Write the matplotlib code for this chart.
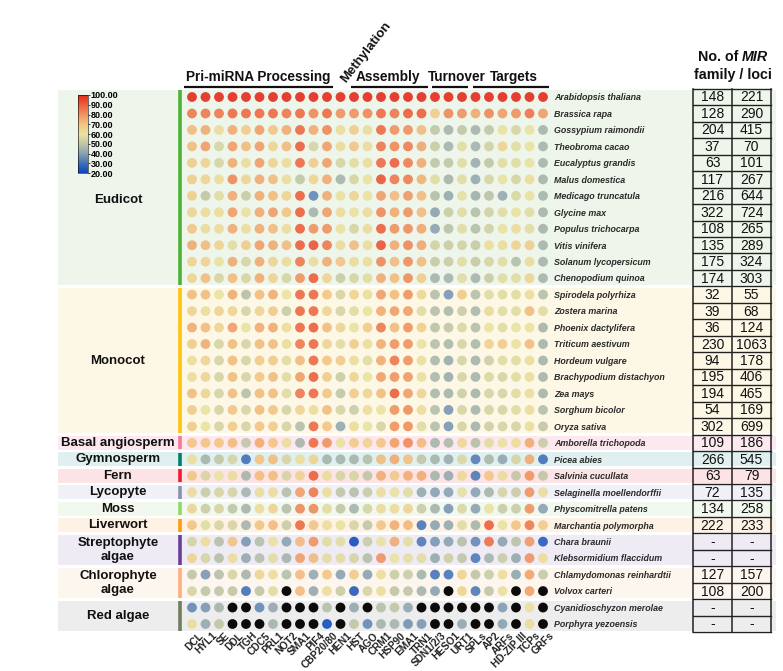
import numpy as np
import matplotlib
matplotlib.use('Agg')
import matplotlib.pyplot as plt
from matplotlib.colors import LinearSegmentedColormap, Normalize
from matplotlib.cm import ScalarMappable
from matplotlib.patches import Rectangle

plt.rcParams['font.family'] = ['Liberation Sans', 'DejaVu Sans']

genes = ['DCL', 'HYL1', 'SE', 'DDL', 'TGH', 'CDC5', 'PRL1', 'NOT2', 'SMA1', 'PIF4',
         'CBP20/80', 'HEN1', 'HST', 'AGO', 'CRM1', 'HSP90', 'EMA1', 'TRN1', 'SDN1/2/3',
         'HESO1', 'URT1', 'SPLs', 'AP2', 'ARFs', 'HD-ZIP III', 'TCPs', 'GRFs']

modules = ['Pri-miRNA Processing', 'Methylation', 'Assembly', 'Turnover', 'Targets']
module_first = [0, 11, 12, 18, 21]
module_last = [10, 11, 17, 20, 26]

species = ['Arabidopsis thaliana', 'Brassica rapa', 'Gossypium raimondii', 'Theobroma cacao',
           'Eucalyptus grandis', 'Malus domestica', 'Medicago truncatula', 'Glycine max',
           'Populus trichocarpa', 'Vitis vinifera', 'Solanum lycopersicum', 'Chenopodium quinoa',
           'Spirodela polyrhiza', 'Zostera marina', 'Phoenix dactylifera', 'Triticum aestivum',
           'Hordeum vulgare', 'Brachypodium distachyon', 'Zea mays', 'Sorghum bicolor',
           'Oryza sativa', 'Amborella trichopoda', 'Picea abies', 'Salvinia cucullata',
           'Selaginella moellendorffii', 'Physcomitrella patens', 'Marchantia polymorpha',
           'Chara braunii', 'Klebsormidium flaccidum', 'Chlamydomonas reinhardtii',
           'Volvox carteri', 'Cyanidioschyzon merolae', 'Porphyra yezoensis']

groups = ['Eudicot', 'Monocot', 'Basal angiosperm', 'Gymnosperm', 'Fern', 'Lycopyte',
          'Moss', 'Liverwort', 'Streptophyte\nalgae', 'Chlorophyte\nalgae', 'Red algae']
group_sizes = [12, 9, 1, 1, 1, 1, 1, 1, 2, 2, 2]
band_colors = ['#EEF5EA', '#FDF8E6', '#FCE8EE', '#E0F0F0', '#FCE3E6', '#F0F0F7',
               '#F1F8EE', '#FDF2E4', '#EEEBF5', '#FDF6EE', '#EDEDED']
bar_colors = ['#4DB337', '#FFC20E', '#F7779B', '#00806A', '#EE1C2E', '#8E8EAE',
              '#8ED86E', '#FF9A10', '#6A3F98', '#FFAE7E', '#6F7F5F']

mir_family = ['148', '128', '204', '37', '63', '117', '216', '322', '108', '135', '175', '174',
              '32', '39', '36', '230', '94', '195', '194', '54', '302', '109', '266', '63',
              '72', '134', '222', '-', '-', '127', '108', '-', '-']
mir_loci = ['221', '290', '415', '70', '101', '267', '644', '724', '265', '289', '324', '303',
            '55', '68', '124', '1063', '178', '406', '465', '169', '699', '186', '545', '79',
            '135', '258', '233', '-', '-', '157', '200', '-', '-']

N = None
scores = [
    [100, 100, 100, 100, 100, 100, 100, 100, 100, 100, 100, 100, 100, 100, 100, 100, 100, 100, 100, 100, 100, 100, 100, 100, 100, 100, 100],
    [85, 85, 85, 88, 88, 88, 88, 85, 88, 82, 88, 80, 80, 82, 88, 85, 90, 90, 68, 82, 80, 75, 82, 78, 80, 86, 78],
    [72, 75, 62, 75, 68, 78, 70, 75, 88, 75, 82, 62, 68, 62, 88, 80, 80, 72, 50, 45, 50, 45, 50, 60, 55, 60, 45],
    [72, 78, 55, 78, 72, 78, 65, 72, 90, 55, 78, 62, 70, 62, 85, 82, 84, 76, 52, 45, 58, 45, 54, 65, 58, 60, 45],
    [68, 65, 55, 75, 62, 78, 65, 62, 88, 68, 78, 55, 58, 62, 88, 90, 84, 75, 50, 50, 58, 43, 50, 58, 58, 60, 45],
    [68, 65, 62, 82, 65, 75, 72, 62, 50, 65, 75, 45, 55, 60, 92, 85, 84, 74, 58, 45, 58, 42, 55, 60, 55, 62, 45],
    [68, 50, 58, 75, 52, 75, 72, 65, 90, 35, 75, 60, 65, 60, 78, 72, 79, 72, 48, 42, 59, 44, 49, 42, 56, 60, 45],
    [65, 62, 62, 78, 60, 75, 78, 70, 90, 45, 78, 62, 60, 62, 82, 75, 80, 72, 40, 52, 58, 48, 54, 58, 60, 58, 45],
    [70, 62, 62, 75, 62, 75, 72, 62, 90, 80, 80, 60, 55, 62, 90, 80, 81, 76, 40, 49, 58, 48, 54, 60, 62, 58, 45],
    [75, 72, 65, 58, 68, 78, 75, 72, 90, 92, 85, 62, 72, 62, 92, 75, 82, 76, 54, 52, 54, 51, 62, 62, 65, 68, 45],
    [65, 65, 60, 75, 55, 75, 65, 62, 85, 62, 75, 70, 62, 62, 82, 72, 81, 72, 51, 52, 58, 51, 55, 58, 48, 62, 45],
    [65, 72, 55, 72, 55, 75, 65, 55, 80, 90, 65, 52, 55, 58, 75, 72, 81, 68, 45, 45, 58, 45, 52, 58, 58, 65, 45],
    [72, 72, 60, 75, 48, 72, 75, 60, 88, 88, 70, 55, 65, 62, 78, 72, 80, 64, 48, 38, 69, 48, 58, 58, 58, 62, 48],
    [65, 62, 65, 65, 55, 65, 68, 52, 88, 88, 65, 55, 58, 60, 75, 78, 78, 58, 48, 46, 52, 46, 63, 58, 58, 72, 58],
    [75, 72, 65, 78, 60, 75, 75, 62, 88, 90, 72, 65, 60, 68, 85, 72, 80, 67, 49, 50, 56, 48, 60, 58, 60, 60, 45],
    [68, 75, 55, 72, 55, 72, 72, 62, 85, 88, 65, 58, 68, 62, 75, 80, 80, 60, 48, 46, 55, 46, 66, 68, 60, 72, 45],
    [62, 65, 55, 72, 55, 68, 68, 58, 72, 88, 70, 68, 62, 58, 75, 85, 80, 61, 46, 43, 55, 45, 53, 58, 58, 62, 45],
    [62, 65, 55, 72, 55, 70, 72, 58, 78, 90, 68, 52, 65, 60, 78, 80, 79, 61, 46, 43, 55, 45, 56, 55, 58, 62, 45],
    [72, 65, 55, 72, 48, 72, 72, 58, 85, 88, 70, 50, 68, 65, 72, 90, 78, 65, 46, 45, 53, 45, 55, 55, 58, 62, 45],
    [68, 60, 55, 70, 55, 72, 70, 55, 65, 62, 72, 55, 52, 62, 60, 80, 81, 62, 48, 38, 55, 45, 55, 55, 58, 62, 48],
    [68, 60, 55, 68, 55, 70, 68, 55, 48, 88, 70, 42, 62, 60, 55, 80, 81, 58, 48, 38, 55, 45, 53, 55, 55, 62, 50],
    [70, 70, 70, 72, 50, 75, 70, 62, 45, 88, 80, 60, 68, 65, 70, 78, 82, 72, 45, 47, 64, 48, 58, 60, 62, 75, 52],
    [62, 45, 50, 55, 30, 70, 72, 55, 62, 65, 45, 45, 45, 48, 72, 75, 71, 50, 45, 43, 56, 33, 46, 41, 55, 75, 30],
    [70, 55, 60, 62, 45, 72, 72, 55, 65, 90, 62, 55, 55, 50, 75, 68, 75, 75, 45, 42, 63, 32, 70, 62, 50, 80, 50],
    [62, 52, 55, 55, 45, 62, 62, 48, 78, 85, 62, 50, 48, 52, 62, 60, 58, 42, 40, 40, 59, 40, 45, 55, 52, 80, 62],
    [65, 52, 55, 50, 45, 62, 65, 48, 82, 82, 58, 50, 45, 55, 62, 62, 65, 52, 45, 38, 56, 40, 60, 52, 52, 80, 40],
    [70, 58, 55, 55, 45, 70, 72, 52, 88, 70, 62, 60, 55, 50, 70, 75, 73, 31, 40, 42, 58, 45, 90, 60, 70, 85, 68],
    [55, 62, 48, 70, 38, 48, 60, 40, 72, 80, 58, 58, 22, 52, 60, 75, 58, 32, 38, 40, 48, 35, 87, 40, 49, 79, 25],
    [65, 55, 48, 62, 42, 48, 58, 45, 78, 72, 58, 58, 55, 48, 80, 60, 59, 58, 42, 53, 50, 32, 45, 52, 42, 80, 62],
    [50, 38, 48, 55, 45, 65, 62, 48, 72, 42, 70, 40, 68, 40, 62, 52, 52, 45, 31, 31, 65, 50, 52, 62, 41, 77, 51],
    [55, 50, 50, 50, 30, 50, 58, N, 72, 42, 62, 52, 25, 55, 62, 50, 50, 45, 40, N, 65, 32, 50, 61, N, 77, N],
    [35, 38, 45, N, N, 35, 42, N, N, N, 48, N, 42, N, 48, 50, 41, N, N, N, N, N, N, 39, N, 61, N],
    [62, 42, 50, N, N, N, 45, N, N, N, 22, N, 50, 35, 45, 45, 37, 38, N, N, 41, N, N, 40, N, 62, N],
]

# colour scale 20 (blue) -> 60 (pale yellow) -> 100 (red)
cmap = LinearSegmentedColormap.from_list('cons', [
    (0.000, '#0A46BE'), (0.125, '#4070B8'), (0.250, '#8AA2B0'), (0.375, '#BFC6A6'),
    (0.500, '#EAE2A0'), (0.625, '#F2C584'), (0.750, '#EF9460'), (0.875, '#EC603C'),
    (1.000, '#E52A1E')])
norm = Normalize(20, 100)

W, H = 783, 671
fig = plt.figure(figsize=(W / 100, H / 100), dpi=100)
ax = fig.add_axes([0, 0, 1, 1])
xs_px = 13.5          # pixels per gene column
ys_px = 527 / 32      # pixels per species row
x0, y0 = 192, 97
ax.set_xlim(-x0 / xs_px, (W - x0) / xs_px)
ax.set_ylim((H - y0) / ys_px, -y0 / ys_px)
ax.axis('off')


def px(x):
    return (x - x0) / xs_px


def py(y):
    return (y - y0) / ys_px


# group bands, side bars and labels
start = 0
for g, n, bc, lc in zip(groups, group_sizes, band_colors, bar_colors):
    end = start + n - 1
    ax.add_patch(Rectangle((px(58), start - 0.42), px(776) - px(58), end - start + 0.84,
                           facecolor=bc, edgecolor='none', zorder=0))
    ax.plot([px(180), px(180)], [start - 0.4, end + 0.4], color=lc, lw=2.6,
            solid_capstyle='butt', zorder=2)
    yc = (start + end) / 2
    if g == 'Eudicot':
        yc = py(200)
    ax.text(px(118), yc, g, ha='center', va='center', fontsize=9.5,
            fontweight='bold', color='#111', linespacing=1.15)
    start = end + 1

# dots
vals = np.array([[np.nan if v is None else v for v in row] for row in scores], dtype=float)
yy, xx = np.mgrid[0:len(species), 0:len(genes)]
ok = ~np.isnan(vals)
ax.scatter(xx[ok], yy[ok], c=vals[ok], cmap=cmap, norm=norm, s=50, alpha=0.9,
           edgecolors='none', zorder=3)
ax.scatter(xx[~ok], yy[~ok], color='#0D0A0A', s=50, edgecolors='none', zorder=3)

# species names
for i, sp in enumerate(species):
    ax.text(px(554), i + 0.05, sp, ha='left', va='center', fontsize=6.4, fontweight='bold',
            style='italic', color='#2a2a2a')

# gene labels
for j, gname in enumerate(genes):
    ax.text(j + 0.45, 32.4, gname, rotation=45, ha='right', va='top',
            rotation_mode='anchor', fontsize=7.3, fontweight='bold', color='#222')

# module headers (label shift keeps the text where the reference puts it)
label_shift = [-0.1, 0, 0, 0.6, 0.35]
for m, a, b, sh in zip(modules, module_first, module_last, label_shift):
    if m == 'Methylation':
        ax.text(px(348), py(85), m, rotation=52, ha='left', va='bottom',
                rotation_mode='anchor', fontsize=9.5, fontweight='bold', color='#111')
        continue
    ax.text((a + b) / 2 + sh, py(84), m, ha='center', va='bottom', fontsize=9.8,
            fontweight='bold', color='#111')
    ax.plot([a - 0.6 if a == 0 else a - 0.2, b + 0.45], [py(86.5), py(86.5)],
            color='#111', lw=1.6, solid_capstyle='butt')

# MIR table
tl, tm, tr = px(693), px(732), px(771)
for k in range(len(species) + 1):
    ax.plot([tl, tr], [k - 0.5, k - 0.5], color='#222', lw=1.0, zorder=4)
for xv in (tl, tm, tr):
    ax.plot([xv, xv], [-0.5, len(species) - 0.5], color='#222', lw=1.1, zorder=4)
for i in range(len(species)):
    ax.text((tl + tm) / 2, i + 0.03, mir_family[i], ha='center', va='center', fontsize=10,
            color='#111')
    ax.text((tm + tr) / 2, i + 0.03, mir_loci[i], ha='center', va='center', fontsize=10,
            color='#111')
ax.text(px(738.5), py(57), 'No. of', ha='right', va='center', fontsize=10.3,
        fontweight='bold', color='#111')
ax.text(px(742), py(57), 'MIR', ha='left', va='center', fontsize=10.3,
        fontweight='bold', style='italic', color='#111')
ax.text(px(733), py(75), 'family / loci', ha='center', va='center', fontsize=10.3,
        fontweight='bold', color='#111')

# colour bar
cax = fig.add_axes([78 / W, 1 - 173 / H, 10 / W, 78 / H])
cb = fig.colorbar(ScalarMappable(norm=norm, cmap=cmap), cax=cax,
                  ticks=[20, 30, 40, 50, 60, 70, 80, 90, 100], format='%.2f')
cb.outline.set_linewidth(0.4)
cax.tick_params(length=1.5, width=0.5, pad=0.5, labelsize=6.5)
for t in cax.get_yticklabels():
    t.set_fontweight('bold')

fig.savefig('out.png', dpi=100)
